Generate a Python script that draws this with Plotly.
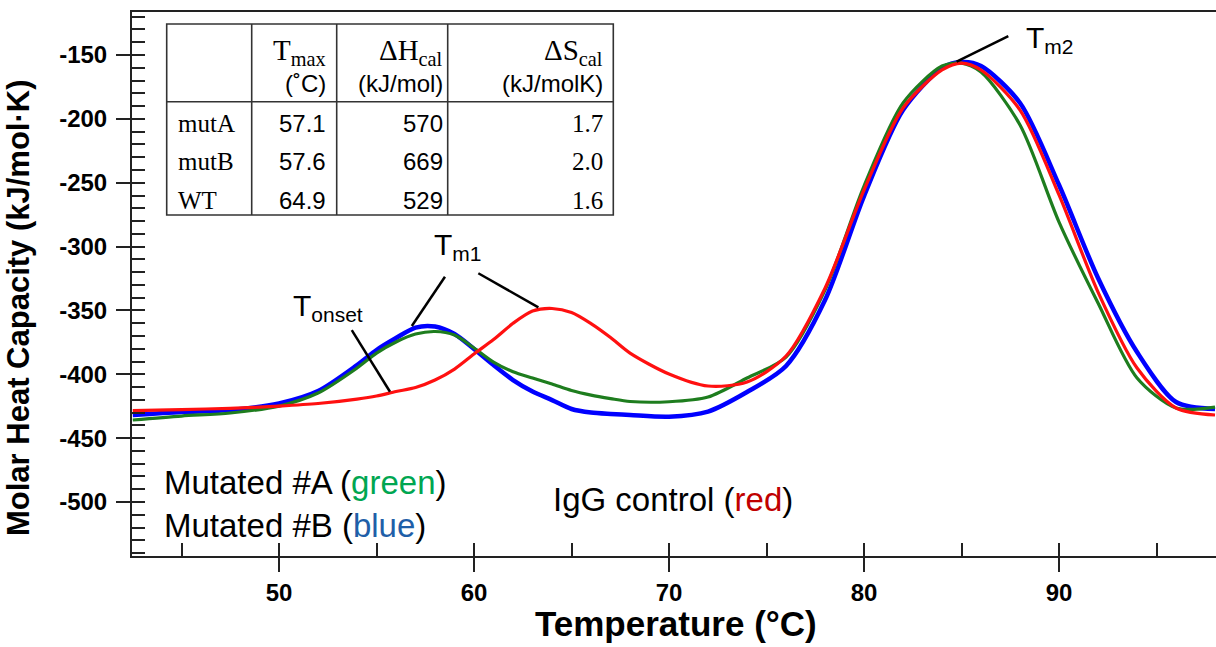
import plotly.graph_objects as go

# ---------------- data ----------------
temperature = [42.5, 45, 47.5, 50, 52, 54, 55, 56, 57, 58, 59, 60, 61, 62, 63, 64, 65, 66, 67, 68,
               70, 72, 74, 76, 78, 80, 82, 84, 85, 86, 88, 90, 92, 94, 96, 98]
igg_red = [-428.5, -427.6, -426.7, -424.9, -422.9, -419.4, -417.0, -413.5, -410.4, -404.5, -395.9,
           -384.1, -372.8, -360.1, -350.5, -348.5, -351.6, -360.3, -371.2, -383.4, -399.8, -409.2,
           -406.1, -385.7, -332.5, -255.7, -191.5, -161.7, -156.3, -161.7, -193.1, -259.6, -335.6,
           -395.1, -426.4, -431.9]
mutB_blue = [-431.9, -429.6, -428.0, -422.8, -413.1, -392.8, -381.0, -371.6, -363.4, -362.6, -368.5,
             -380.2, -392.8, -404.5, -413.5, -420.2, -427.2, -430.0, -431.1, -431.9, -433.2, -429.2,
             -413.9, -393.5, -341.9, -260.4, -193.1, -160.2, -155.5, -158.6, -187.6, -251.8, -324.6,
             -382.6, -421.7, -427.2]
mutA_green = [-435.8, -432.7, -430.3, -424.9, -414.7, -395.1, -383.4, -374.7, -368.5, -366.5, -369.3,
              -379.4, -390.4, -398.0, -402.9, -407.6, -412.7, -416.3, -419.0, -421.3, -421.5, -417.8,
              -402.9, -386.5, -334.0, -252.6, -187.6, -158.6, -156.3, -163.3, -204.8, -280.8, -344.2,
              -402.9, -426.4, -425.7]

x_ticks = [50, 60, 70, 80, 90]
y_ticks = [-500, -450, -400, -350, -300, -250, -200, -150]

table_rows = ["mutA", "mutB", "WT"]
table_tmax = ["57.1", "57.6", "64.9"]
table_dh = ["570", "669", "529"]
table_ds = ["1.7", "2.0", "1.6"]

# leader lines (temperature, heat capacity)
tonset_line = ([53.73, 55.69], [-365.4, -413.7])
tm1_line_a = ([58.51, 56.81], [-323.6, -362.2])
tm1_line_b = ([60.22, 63.30], [-320.9, -347.6])
tm2_line = ([87.40, 84.75], [-135.1, -155.2])

# ---------------- layout geometry ----------------
W, H = 1216, 647
L, R, T, B = 132, 1216, 12, 556
X_RANGE = [42.46, 98.05]
Y_RANGE = [-542.3, -116.3]


def pxx(xp):
    return (xp - L) / (R - L)


def pxy(yp):
    return (B - yp) / (B - T)


SANS = "Liberation Sans"
SERIF = "Liberation Serif"

fig = go.Figure()

fig.add_trace(go.Scatter(x=temperature, y=mutB_blue, mode="lines", name="Mutated #B",
                         line=dict(color="#0000ff", width=4.5, shape="spline", smoothing=0.8)))
fig.add_trace(go.Scatter(x=temperature, y=mutA_green, mode="lines", name="Mutated #A",
                         line=dict(color="#1e7d1e", width=3.2, shape="spline", smoothing=0.8)))
fig.add_trace(go.Scatter(x=temperature, y=igg_red, mode="lines", name="IgG control",
                         line=dict(color="#ff1010", width=3.2, shape="spline", smoothing=0.8)))
# dummy trace for the overlay (inside-tick) axes
fig.add_trace(go.Scatter(x=[], y=[], xaxis="x2", yaxis="y2", showlegend=False, hoverinfo="skip"))

shapes = []
for lx, ly in [tonset_line, tm1_line_a, tm1_line_b, tm2_line]:
    shapes.append(dict(type="line", xref="x", yref="y", x0=lx[0], x1=lx[1], y0=ly[0], y1=ly[1],
                       line=dict(color="black", width=2.5)))

# table box
tbl_left, tbl_right, tbl_top, tbl_hdr, tbl_bot = 166.7, 613.3, 24, 101.7, 215
tbl_cols = [251.7, 336.7, 447.7]
tline = dict(color="#333333", width=1.6)
shapes.append(dict(type="rect", xref="paper", yref="paper", x0=pxx(tbl_left), x1=pxx(tbl_right),
                   y0=pxy(tbl_bot), y1=pxy(tbl_top), line=tline, fillcolor="white", layer="above"))
for cx in tbl_cols:
    shapes.append(dict(type="line", xref="paper", yref="paper", x0=pxx(cx), x1=pxx(cx),
                       y0=pxy(tbl_bot), y1=pxy(tbl_top), line=tline))
shapes.append(dict(type="line", xref="paper", yref="paper", x0=pxx(tbl_left), x1=pxx(tbl_right),
                   y0=pxy(tbl_hdr), y1=pxy(tbl_hdr), line=tline))

annotations = []


def add_text(text, xp, yp, size, family=SANS, xanchor="left", color="black", weight="normal",
             angle=0, yanchor="middle"):
    annotations.append(dict(text=text, x=pxx(xp), y=pxy(yp), xref="paper", yref="paper",
                            showarrow=False, xanchor=xanchor, yanchor=yanchor, textangle=angle,
                            font=dict(family=family, size=size, color=color, weight=weight)))


# table header
add_text("T<sub>max</sub>", 328, 52, 29, SERIF, "right")
add_text("ΔH<sub>cal</sub>", 445, 52, 29, SERIF, "right")
add_text("ΔS<sub>cal</sub>", 605, 52, 29, SERIF, "right")
add_text("(˚C)", 328, 84, 24, SANS, "right")
add_text("(kJ/mol)", 445, 84, 24, SANS, "right")
add_text("(kJ/molK)", 605, 84, 24, SANS, "right")
row_y = [123.3, 161.7, 200]
for i in range(3):
    add_text(table_rows[i], 176, row_y[i], 25, SERIF, "left")
    add_text(table_tmax[i], 328, row_y[i], 24, SANS, "right")
    add_text(table_dh[i], 445, row_y[i], 24, SANS, "right")
    add_text(table_ds[i], 605, row_y[i], 25, SERIF, "right")

# sample labels
add_text("Mutated #A (<span style='color:#00a651'>green</span>)", 162, 482, 33)
add_text("Mutated #B (<span style='color:#1f5fa8'>blue</span>)", 162, 525, 33)
add_text("IgG control (<span style='color:#c00000'>red</span>)", 551, 499, 33)

# axis titles
add_text("Temperature (°C)", 676, 645, 35, SANS, "center", weight="bold", yanchor="bottom")
add_text("Molar Heat Capacity (kJ/mol·K)", 18, 308, 31, SANS, "center", weight="bold", angle=-90)

# transition labels (in data coords)
for txt, tx, ty in [("T<sub>onset</sub>", 50.6, -348.0), ("T<sub>m1</sub>", 57.85, -300.0),
                    ("T<sub>m2</sub>", 88.2, -138.0)]:
    annotations.append(dict(text=txt, x=tx, y=ty, xref="x", yref="y", showarrow=False,
                            xanchor="left", yanchor="middle",
                            font=dict(family=SANS, size=30, color="black")))

axis_font = dict(family=SANS, size=24, color="black", weight="bold")

fig.update_layout(
    width=W, height=H, autosize=False,
    margin=dict(l=L, r=W - R, t=T, b=H - B, pad=0),
    paper_bgcolor="white", plot_bgcolor="white",
    showlegend=False,
    shapes=shapes, annotations=annotations,
    xaxis=dict(range=X_RANGE, tickmode="array", tickvals=x_ticks, ticktext=[str(v) for v in x_ticks],
               ticks="outside", ticklen=14, tickwidth=1.6, tickcolor="#222",
               showline=True, linecolor="#222", linewidth=2, mirror=True,
               showgrid=False, zeroline=False, tickfont=axis_font, ticklabelstandoff=0),
    yaxis=dict(range=Y_RANGE, tickmode="array", tickvals=y_ticks,
               ticktext=[f"{v}" for v in y_ticks],
               ticks="outside", ticklen=14, tickwidth=1.6, tickcolor="#222",
               showline=True, linecolor="#222", linewidth=2, mirror=False,
               showgrid=False, zeroline=False, tickfont=axis_font, ticklabelstandoff=4),
    xaxis2=dict(range=X_RANGE, overlaying="x", side="bottom", anchor="y2", tick0=0, dtick=5,
                ticks="inside", ticklen=13, tickwidth=1.6, tickcolor="#222",
                showticklabels=False, showline=False, showgrid=False, zeroline=False),
    yaxis2=dict(range=Y_RANGE, overlaying="y", side="left", anchor="x2", tick0=0, dtick=10,
                ticks="inside", ticklen=13, tickwidth=1.6, tickcolor="#222",
                showticklabels=False, showline=False, showgrid=False, zeroline=False),
)

fig.write_html("out.html")
